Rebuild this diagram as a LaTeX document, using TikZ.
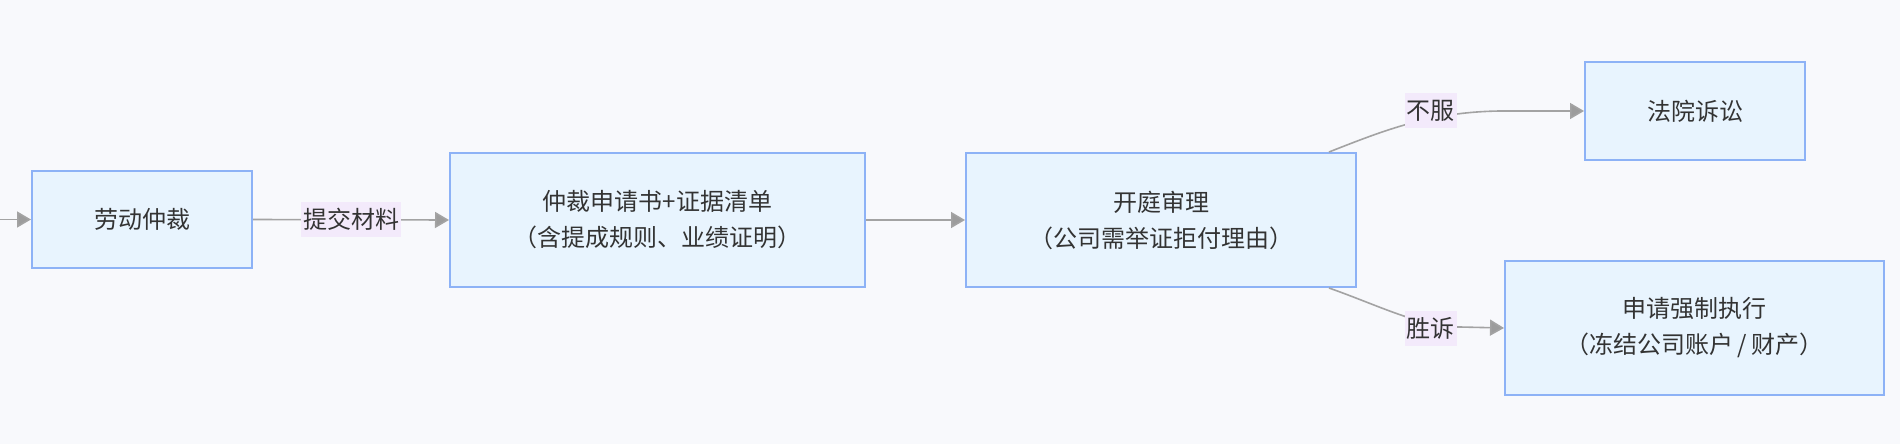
\documentclass[tikz,border=0pt]{standalone}
\usepackage{fontspec}
\setmainfont{Noto Sans CJK SC}
\usepackage{xcolor}
\usetikzlibrary{arrows.meta,positioning,calc}
\definecolor{bgcol}{HTML}{F8F9FC}
\definecolor{boxfill}{HTML}{E8F4FE}
\definecolor{boxline}{HTML}{8DB2F6}
\definecolor{lblfill}{HTML}{F3EAFB}
\definecolor{edgecol}{HTML}{A3A3A3}
\definecolor{tipcol}{HTML}{9C9C9C}
\definecolor{txtcol}{HTML}{333333}

\begin{document}
\begin{tikzpicture}[x=0.5pt,y=-0.5pt,
 font=\fontsize{12pt}{18pt}\selectfont,text=txtcol,
 box/.style={draw=boxline,fill=boxfill,line width=1pt,align=center,inner sep=0pt},
 lbl/.style={fill=lblfill,inner xsep=1pt,inner ysep=0pt,minimum height=17.5pt},
 edge/.style={draw=edgecol,line width=0.8pt,-{Triangle[length=7pt,width=8pt,fill=tipcol]}}]
 \fill[bgcol] (0,0) rectangle (1900,444);
 \useasboundingbox (0,0) rectangle (1900,444);
 % steps
 \node[box,minimum width=110pt,minimum height=48.5pt] (arb) at (142,219.5) {劳动仲裁};
 \node[box,minimum width=207.5pt,minimum height=67pt] (apply) at (657.5,220) {仲裁申请书+证据清单\\（含提成规则、业绩证明）};
 \node[box,minimum width=195pt,minimum height=67pt] (hear) at (1161,220) {开庭审理\\（公司需举证拒付理由）};
 \node[box,minimum width=110pt,minimum height=49pt] (court) at (1695,111) {法院诉讼};
 \node[box,minimum width=189.5pt,minimum height=67pt] (exec) at (1694.5,328) {申请强制执行\\（冻结公司账户\,/\,财产）};
 % connectors
 \coordinate (in) at (0,219.5);
 \draw[edge] (in) -- (arb.west);
 \draw[edge] (arb.east) -- (apply.west);
 \draw[edge] (apply.east) -- (hear.west);
 \draw[edge] ($(hear.north east)+(-28,0)$) .. controls (1385,130) and (1430,112) .. (1500,111) -- (court.west);
 \draw[edge] ($(hear.south east)+(-28,0)$) .. controls (1380,306) and (1420,327) .. (1460,327) -- (exec.west);
 % edge labels
 \node[lbl] (submit) at (351,219.5) {提交材料};
 \node[lbl] (appeal) at (1430.5,110.5) {不服};
 \node[lbl] (win) at (1430.5,328) {胜诉};
\end{tikzpicture}
\end{document}
